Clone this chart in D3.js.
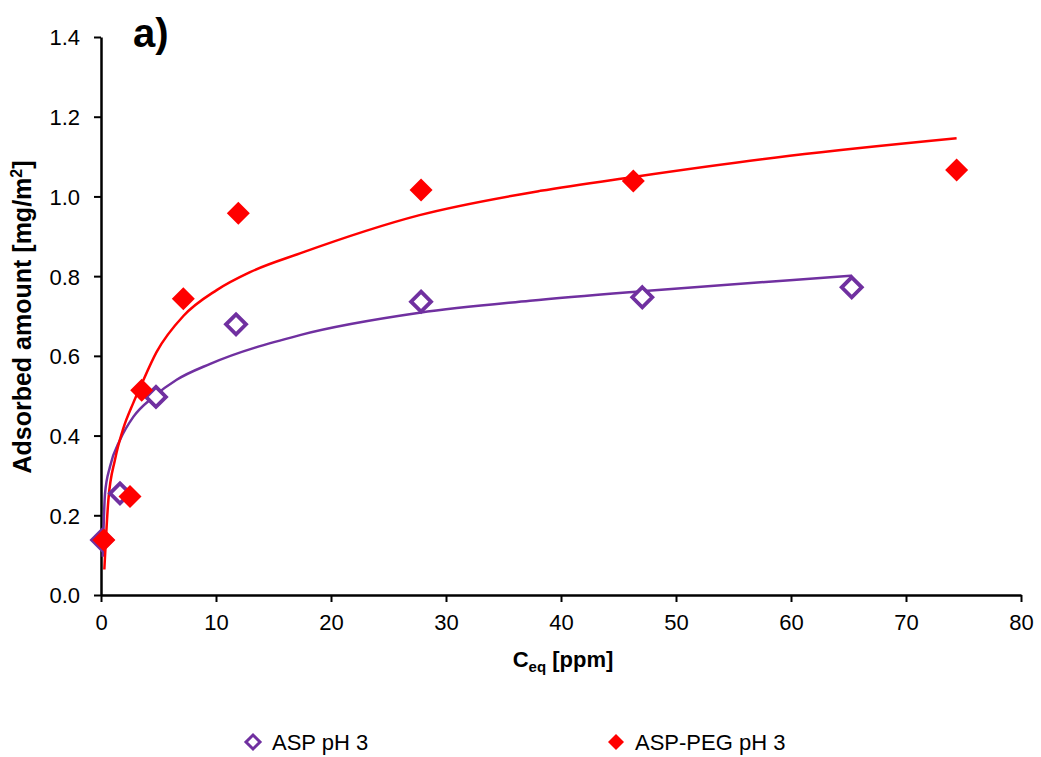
<!DOCTYPE html>
<html>
<head>
<meta charset="utf-8">
<script src="https://cdn.jsdelivr.net/npm/d3@7"></script>
<style>
  body { margin: 0; background: #fff; }
  svg { display: block; font-family: "Liberation Sans", Arial, sans-serif; }
</style>
</head>
<body>
<svg id="chart" width="1041" height="757"></svg>
<script>
// ---- data ----
const aspX = [0.1, 1.65, 4.78, 11.74, 27.83, 47.07, 65.28];
const aspY = [0.138, 0.255, 0.497, 0.679, 0.736, 0.747, 0.772];
const pegX = [0.25, 2.52, 3.54, 7.16, 11.94, 27.83, 46.29, 74.4];
const pegY = [0.138, 0.247, 0.514, 0.743, 0.958, 1.016, 1.039, 1.066];
// fitted trend curves
const aspFitX = [0.15, 0.35, 0.78, 1.65, 2.81, 4.55, 6.58, 9.5, 17.3, 27.7, 37.3, 47.0, 59.9, 65.3];
const aspFitY = [0.096, 0.255, 0.322, 0.389, 0.447, 0.497, 0.54, 0.58, 0.652, 0.708, 0.738, 0.762, 0.790, 0.801];
const pegFitX = [0.29, 0.64, 1.22, 1.94, 2.81, 3.39, 4.84, 7.16, 10.06, 12.96, 17.3, 27.7, 38.2, 46.3, 59.9, 74.4];
const pegFitY = [0.064, 0.238, 0.34, 0.418, 0.482, 0.52, 0.61, 0.70, 0.765, 0.81, 0.857, 0.953, 1.014, 1.049, 1.102, 1.146];
const xTicks = [0, 10, 20, 30, 40, 50, 60, 70, 80];
const yTicks = [0.0, 0.2, 0.4, 0.6, 0.8, 1.0, 1.2, 1.4];
const seriesNames = ["ASP pH 3", "ASP-PEG pH 3"];
const purple = "#7030A0", red = "#FF0000";

const svg = d3.select("#chart");
const x = d3.scaleLinear().domain([0, 80]).range([101, 1021]);
const y = d3.scaleLinear().domain([0, 1.4]).range([595, 37]);

// axes
const xAxis = svg.append("g").attr("transform", "translate(0,595)")
  .call(d3.axisBottom(x).tickValues(xTicks).tickSize(7).tickPadding(12).tickSizeOuter(0));
const yAxis = svg.append("g").attr("transform", "translate(101,0)")
  .call(d3.axisLeft(y).tickValues(yTicks).tickFormat(d3.format(".1f")).tickSize(7).tickPadding(14).tickSizeOuter(0));
[xAxis, yAxis].forEach(g => {
  g.select(".domain").attr("stroke", "#000").attr("stroke-width", 2.5);
  g.selectAll(".tick line").attr("stroke", "#000").attr("stroke-width", 2);
  g.selectAll(".tick text").attr("fill", "#000").style("font-size", "22px")
    .style("font-family", '"Liberation Sans", Arial, sans-serif');
});
yAxis.selectAll(".tick text").attr("dy", "0.36em");

// trend curves
const line = d3.line().x(d => x(d[0])).y(d => y(d[1])).curve(d3.curveMonotoneX);
svg.append("path").datum(d3.zip(aspFitX, aspFitY)).attr("d", line)
  .attr("fill", "none").attr("stroke", purple).attr("stroke-width", 2.5);
svg.append("path").datum(d3.zip(pegFitX, pegFitY)).attr("d", line)
  .attr("fill", "none").attr("stroke", red).attr("stroke-width", 2.5);

// markers
const diamond = r => `M0,${-r}L${r},0L0,${r}L${-r},0Z`;
svg.append("g").selectAll("path").data(d3.zip(aspX, aspY)).join("path")
  .attr("transform", d => `translate(${x(d[0])},${y(d[1])})`)
  .attr("d", diamond(10)).attr("fill", "#fff").attr("stroke", purple).attr("stroke-width", 3.8);
svg.append("g").selectAll("path").data(d3.zip(pegX, pegY)).join("path")
  .attr("transform", d => `translate(${x(d[0])},${y(d[1])})`)
  .attr("d", diamond(11.5)).attr("fill", red);

// panel label
svg.append("text").attr("x", 133).attr("y", 47).attr("font-size", 40).attr("font-weight", "bold").text("a)");

// axis titles
const xt = svg.append("text").attr("x", 563).attr("y", 667).attr("text-anchor", "middle")
  .attr("font-size", 22).attr("font-weight", "bold");
xt.append("tspan").text("C");
xt.append("tspan").attr("font-size", 15).attr("dy", 5).text("eq");
xt.append("tspan").attr("dy", -5).text(" [ppm]");

const yt = svg.append("text").attr("transform", "translate(31,317) rotate(-90)")
  .attr("text-anchor", "middle").attr("font-size", 25).attr("font-weight", "bold");
yt.append("tspan").text("Adsorbed amount [mg/m");
yt.append("tspan").attr("font-size", 16).attr("dy", -9).text("2");
yt.append("tspan").attr("dy", 9).text("]");

// legend
const legend = [
  { name: seriesNames[0], cx: 253, open: true },
  { name: seriesNames[1], cx: 616, open: false }
];
const lg = svg.append("g").selectAll("g").data(legend).join("g")
  .attr("transform", d => `translate(${d.cx},742)`);
lg.append("path").attr("d", d => diamond(d.open ? 7 : 8))
  .attr("fill", d => d.open ? "#fff" : red)
  .attr("stroke", d => d.open ? purple : "none").attr("stroke-width", 3);
lg.append("text").attr("x", 19).attr("y", 8).attr("font-size", 22).text(d => d.name);
</script>
</body>
</html>
